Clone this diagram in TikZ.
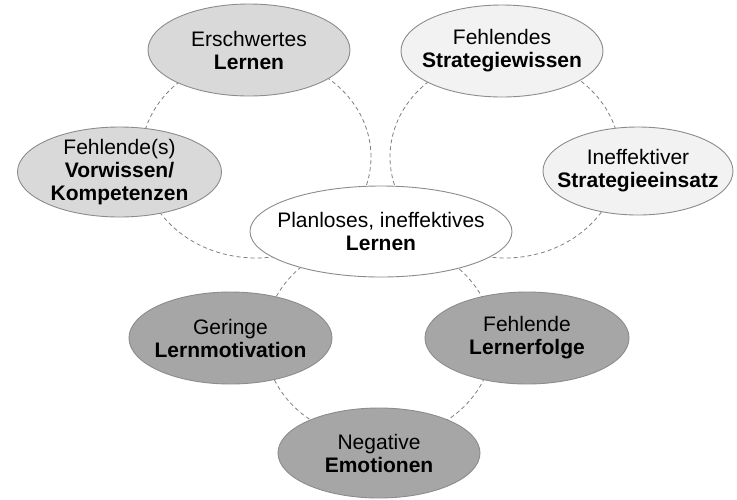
\documentclass[tikz,border=0pt]{standalone}
\usepackage{fontspec}
\setmainfont{Liberation Sans}
\usetikzlibrary{shapes.geometric}
\definecolor{ringgray}{HTML}{808080}
\definecolor{outl}{HTML}{8C8C8C}
\definecolor{fillA}{HTML}{D9D9D9}
\definecolor{fillB}{HTML}{F2F2F2}
\definecolor{fillC}{HTML}{A6A6A6}
\begin{document}
\begin{tikzpicture}[x=1pt,y=-1pt,
  blob/.style={ellipse, draw=outl, line width=0.9pt, inner sep=0pt},
  lbl/.style={align=center, font=\fontsize{21}{23}\selectfont, inner sep=0pt, text=black},
  ring/.style={draw=ringgray, dash pattern=on 4pt off 3pt, line width=0.8pt}]
\useasboundingbox[fill=white] (0,0) rectangle (737,499);
% dashed rings
\coordinate (r1) at (256,157);
\coordinate (r2) at (505,157);
\coordinate (r3) at (379,340);
\draw[ring] (r1) ellipse [x radius=115pt, y radius=101pt];
\draw[ring] (r2) ellipse [x radius=115pt, y radius=101pt];
\draw[ring] (r3) ellipse [x radius=114pt, y radius=100pt];
% ellipses
\node[blob, fill=fillA, minimum width=202pt, minimum height=92pt] (e1) at (249,50) {};
\node[blob, fill=fillA, minimum width=204pt, minimum height=90pt] (e2) at (119.5,172) {};
\node[blob, fill=fillB, minimum width=202pt, minimum height=92pt] (e3) at (502,51) {};
\node[blob, fill=fillB, minimum width=190pt, minimum height=88pt] (e4) at (638,171) {};
\node[blob, fill=white, minimum width=262pt, minimum height=91pt] (e5) at (381,231.5) {};
\node[blob, fill=fillC, minimum width=203pt, minimum height=92pt] (e6) at (230.5,338) {};
\node[blob, fill=fillC, minimum width=204pt, minimum height=92pt] (e7) at (527,338) {};
\node[blob, fill=fillC, minimum width=202pt, minimum height=90pt] (e8) at (379,453) {};
% labels
\node[lbl] (t1) at (e1) {Erschwertes\\\textbf{Lernen}};
\node[lbl] (t2) at (e2) {Fehlende(s)\\\textbf{Vorwissen/}\\\textbf{Kompetenzen}};
\node[lbl] (t3) at (e3) {Fehlendes\\\textbf{Strategiewissen}};
\node[lbl] (t4) at (e4) {Ineffektiver\\\textbf{Strategieeinsatz}};
\node[lbl] (t5) at (e5) {Planloses, ineffektives\\\textbf{Lernen}};
\node[lbl] (t6) at (e6) {Geringe\\\textbf{Lernmotivation}};
\node[lbl] (t7) at (e7) {Fehlende\\\textbf{Lernerfolge}};
\node[lbl] (t8) at (e8) {Negative\\\textbf{Emotionen}};
\end{tikzpicture}
\end{document}
